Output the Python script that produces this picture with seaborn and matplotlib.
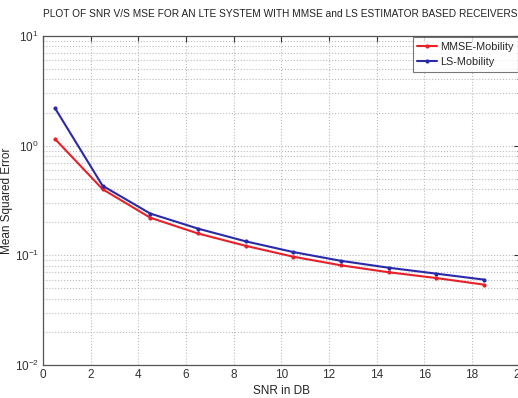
import numpy as np
import pandas as pd
import matplotlib
matplotlib.use("Agg")
import matplotlib.pyplot as plt
import seaborn as sns
from matplotlib.ticker import LogLocator, FixedLocator

snr = [0.5, 2.5, 4.5, 6.5, 8.5, 10.5, 12.5, 14.5, 16.5, 18.5]
mmse = [1.15, 0.40, 0.22, 0.158, 0.122, 0.097, 0.081, 0.070, 0.062, 0.054]
ls = [2.2, 0.43, 0.24, 0.175, 0.134, 0.107, 0.089, 0.077, 0.068, 0.060]
series_names = ["MMSE-Mobility", "LS-Mobility"]
xticks = [0, 2, 4, 6, 8, 10, 12, 14, 16, 18, 20]

df = pd.DataFrame({
    "SNR": snr * 2,
    "MSE": mmse + ls,
    "Series": [series_names[0]] * len(snr) + [series_names[1]] * len(snr),
})

sns.set_style("white")
plt.rcParams['font.family'] = ['Liberation Sans', 'DejaVu Sans']

fig = plt.figure(figsize=(5.18, 3.98), dpi=100)
ax = fig.add_axes([0.083, 0.083, 0.92, 0.827])

sns.lineplot(data=df, x="SNR", y="MSE", hue="Series",
             palette={series_names[0]: "#e8202a", series_names[1]: "#2a2aa8"},
             marker="o", markersize=3, markeredgewidth=0, linewidth=1.5, ax=ax)

ax.set_yscale("log")
ax.set_ylim(1e-2, 1e1)
ax.set_xlim(0, 20)
ax.xaxis.set_major_locator(FixedLocator(xticks))
ax.set_xticklabels([str(t) for t in xticks])
ax.yaxis.set_major_locator(LogLocator(base=10, numticks=10))
ax.yaxis.set_minor_locator(LogLocator(base=10, subs=np.arange(2, 10), numticks=20))

ax.grid(True, which="major", axis="both", color="#bbbbbb", linestyle=":", linewidth=0.8)
ax.grid(True, which="minor", axis="y", color="#bbbbbb", linestyle=":", linewidth=0.8)

ax.tick_params(axis="both", which="both", direction="in", top=True, right=True,
               labelsize=8.5, colors="#333333", pad=3)
ax.tick_params(which="major", length=4)
ax.tick_params(which="minor", length=2)
for s in ax.spines.values():
    s.set_color("#555555")
    s.set_linewidth(0.9)

ax.set_xlabel("SNR in DB", fontsize=8.5, labelpad=3, color="#222222")
ax.set_ylabel("Mean Squared Error", fontsize=8.5, color="#222222")
ax.yaxis.set_label_coords(-0.062, 0.5)
fig.text(0.541, 0.965, "PLOT OF SNR V/S MSE FOR AN LTE SYSTEM WITH MMSE and LS ESTIMATOR BASED RECEIVERS",
         ha="center", va="center", fontsize=7.25, color="#222222")

leg = ax.legend(loc="upper right", fontsize=7.8, frameon=True, fancybox=False,
                edgecolor="#555555", borderaxespad=0.15, handlelength=1.8,
                handletextpad=0.3, borderpad=0.4, labelspacing=0.5)
leg.get_frame().set_linewidth(0.8)

fig.savefig("out.png", dpi=100)
